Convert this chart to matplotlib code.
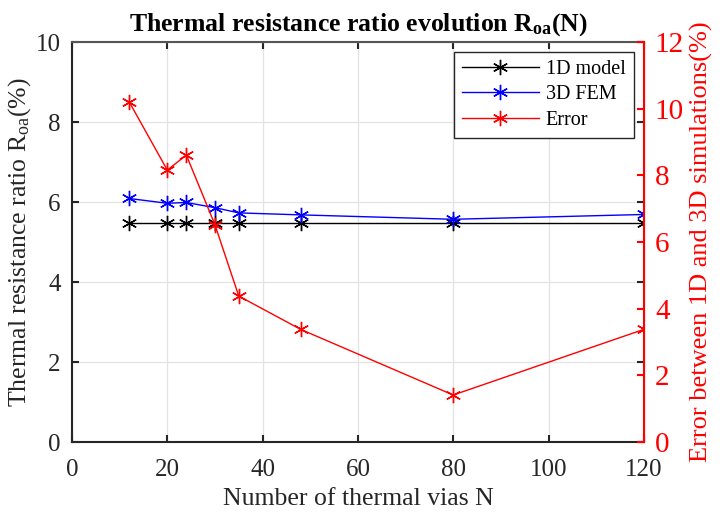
import matplotlib.pyplot as plt

plt.rcParams['font.family'] = ['Liberation Serif', 'DejaVu Serif']
plt.rcParams['mathtext.fontset'] = 'custom'
plt.rcParams['mathtext.rm'] = 'Liberation Serif'
plt.rcParams['mathtext.bf'] = 'Liberation Serif:bold'
plt.rcParams['mathtext.it'] = 'Liberation Serif:italic'

# Data
vias = [12, 20, 24, 30, 35, 48, 80, 120]
model_1d = [5.47, 5.47, 5.47, 5.47, 5.47, 5.47, 5.47, 5.47]
fem_3d = [6.09, 5.97, 5.99, 5.86, 5.73, 5.68, 5.57, 5.69]
error = [10.21, 8.16, 8.61, 6.52, 4.38, 3.38, 1.41, 3.38]

ast = (6, 2, 0)

fig = plt.figure(figsize=(7.22, 5.12), dpi=100)
ax = fig.add_axes([0.0997, 0.1367, 0.792, 0.781])
ax2 = ax.twinx()

l1, = ax.plot(vias, model_1d, color='k', marker=ast, markersize=11, lw=1, label='1D model')
l2, = ax.plot(vias, fem_3d, color='b', marker=ast, markersize=11, lw=1, label='3D FEM')
l3, = ax2.plot(vias, error, color='r', marker=ast, markersize=11, lw=1, label='Error')

ax.set_xlim(0, 120)
ax.set_ylim(0, 10)
ax2.set_ylim(0, 12)
ax.set_xticks(range(0, 121, 20))
ax.set_yticks(range(0, 11, 2))
ax2.set_yticks(range(0, 13, 2))
ax.grid(True, color='#e3e3e3', lw=0.9)
ax.tick_params(labelsize=18, direction='in', length=5, width=1.5, top=True, right=True,
               labelcolor='#262626', color='#262626')
ax.tick_params(axis='x', pad=12)
ax.tick_params(axis='y', pad=8)
ax2.tick_params(labelsize=21, direction='in', length=5, width=1.5, colors='r', pad=8)
for s in ['left', 'bottom', 'top']:
    ax.spines[s].set_linewidth(1.5)
    ax.spines[s].set_color('#262626')
ax.spines['top'].set_color('#555555')
ax2.spines['right'].set_color('r')
ax2.spines['right'].set_linewidth(1.5)
ax2.spines['left'].set_visible(False)
ax2.spines['top'].set_visible(False)
ax2.spines['bottom'].set_visible(False)

ax.set_xlabel('Number of thermal vias N', fontsize=18.5, color='#262626', labelpad=5)
ax.set_ylabel(r'Thermal resistance ratio R$_{\mathrm{oa}}$(%)', fontsize=18.5,
              color='#262626', labelpad=2)
ax2.set_ylabel('Error between 1D and 3D simulations(%)', fontsize=19, color='r', labelpad=4)
ax.set_title(r'Thermal resistance ratio evolution R$_{\mathbf{oa}}$(N)', fontsize=18.5,
             fontweight='bold', pad=8)

leg = ax2.legend(handles=[l1, l2, l3], loc='upper right', fontsize=14.5, fancybox=False,
                 edgecolor='#262626', framealpha=1, borderaxespad=0.5, handlelength=3.8,
                 handletextpad=0.35, labelspacing=0.3)
leg.get_frame().set_linewidth(1)

fig.savefig('out.png', dpi=100)
